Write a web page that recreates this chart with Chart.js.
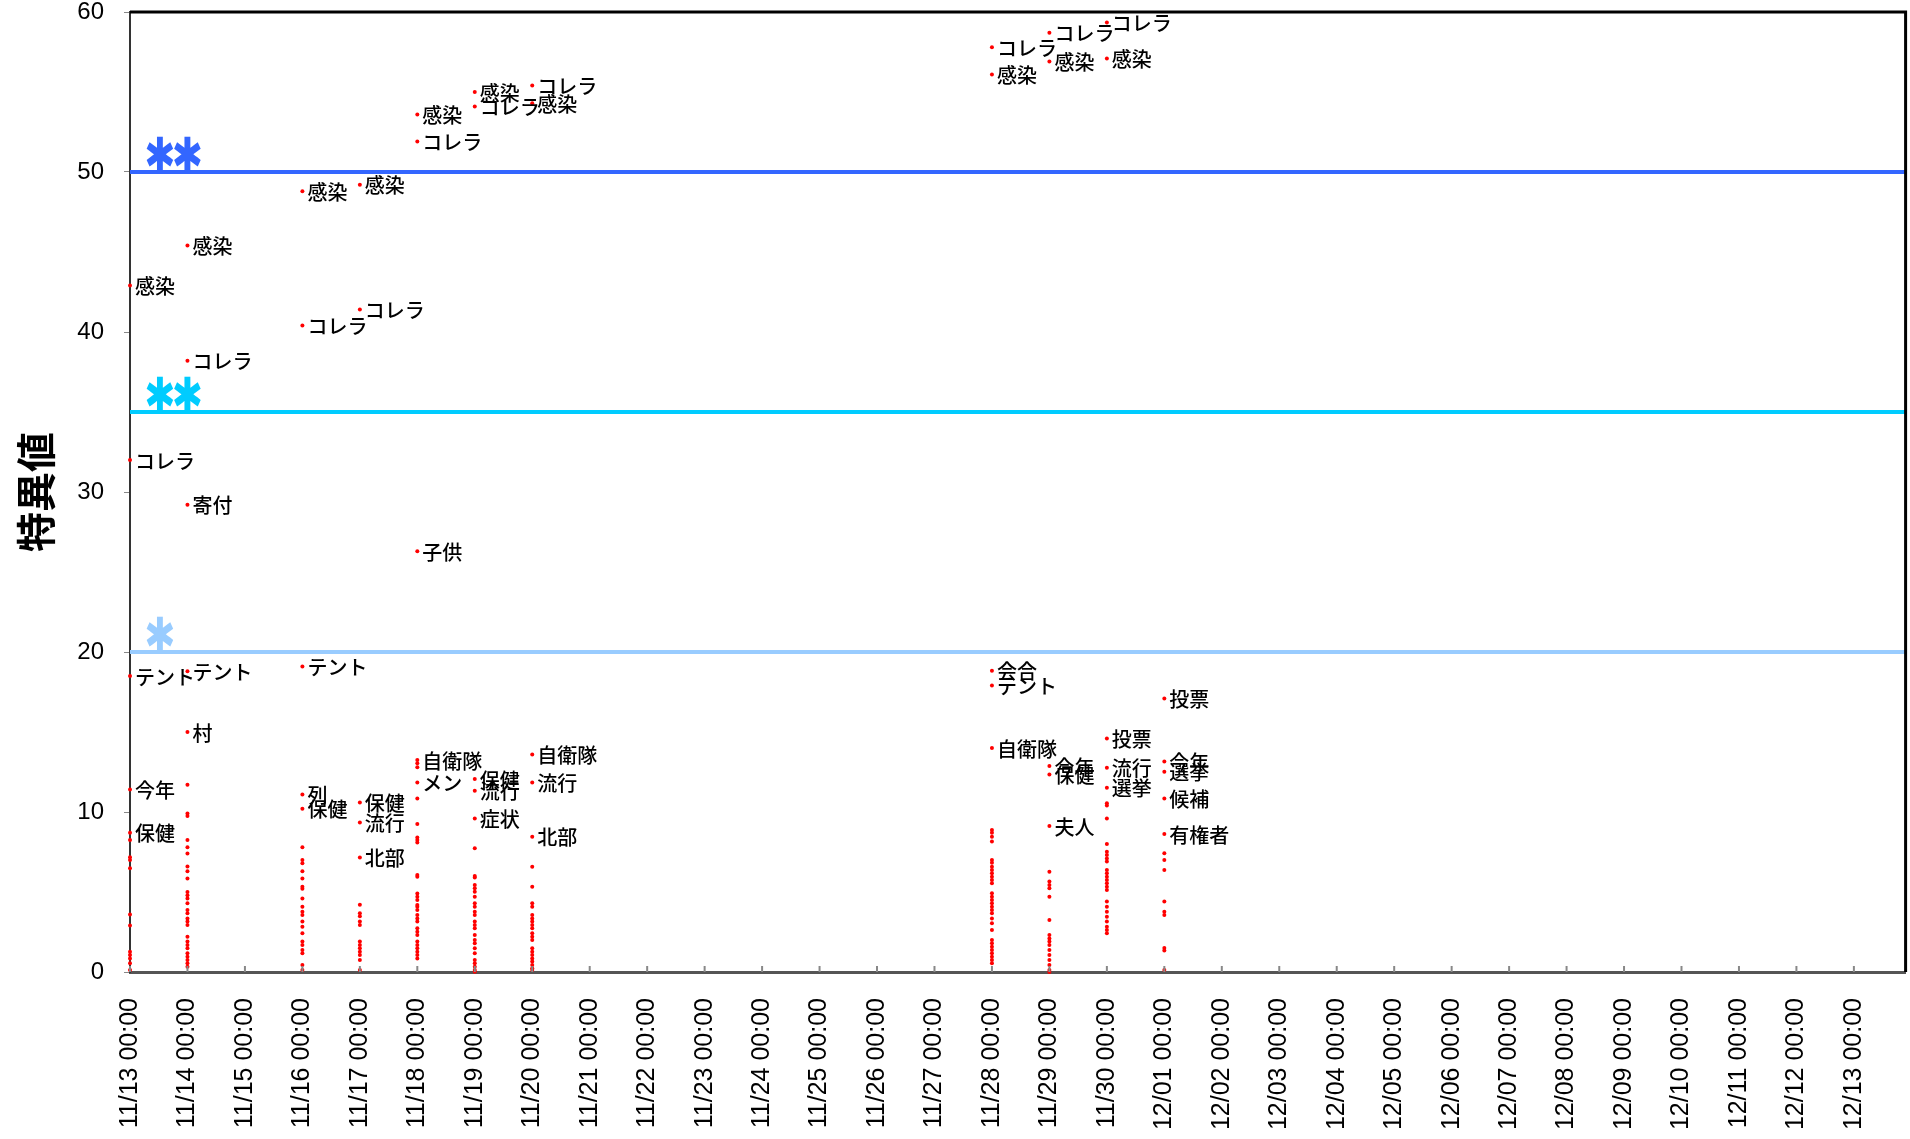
<!DOCTYPE html>
<html>
<head>
<meta charset="utf-8">
<script src="https://cdn.jsdelivr.net/npm/chart.js@4.4.1/dist/chart.umd.min.js"></script>
<style>
  html, body { margin: 0; padding: 0; background: #fff; }
</style>
</head>
<body>
<canvas id="chart" width="1910" height="1139"></canvas>
<script>
// x axis: days counted from 11/13 00:00
const TICK_DATES = ['11/13', '11/14', '11/15', '11/16', '11/17', '11/18', '11/19', '11/20', '11/21', '11/22',
    '11/23', '11/24', '11/25', '11/26', '11/27', '11/28', '11/29', '11/30', '12/01', '12/02',
    '12/03', '12/04', '12/05', '12/06', '12/07', '12/08', '12/09', '12/10', '12/11', '12/12', '12/13'];
const X_MAX = 30.9;

// labelled words
const WORD_DAY = [0, 0, 0, 0, 0, 1, 1, 1, 1, 1, 3, 3, 3, 3, 3, 4, 4, 4, 4, 4, 5, 5, 5, 5, 5,
    6, 6, 6, 6, 6, 7, 7, 7, 7, 7, 15, 15, 15, 15, 15, 16, 16, 16, 16, 16, 17, 17, 17, 17, 17, 18, 18, 18, 18, 18];
const WORD_VALUE = [42.9, 32.0, 18.5, 11.4, 8.7, 45.4, 38.2, 29.2, 18.8, 15.0, 48.8, 40.4, 19.1, 11.1, 10.2,
    49.2, 41.4, 10.6, 9.35, 7.15, 53.6, 51.9, 26.3, 13.25, 11.85, 55.0, 54.1, 12.06, 11.33, 9.6,
    55.4, 54.3, 13.6, 11.85, 8.46, 57.8, 56.1, 18.83, 17.9, 14.0, 58.7, 56.9, 12.88, 12.35, 9.13,
    59.35, 57.1, 14.6, 12.77, 11.52, 17.1, 13.15, 12.52, 10.85, 8.63];
const WORD_TEXT = ['感染', 'コレラ', 'テント', '今年', '保健', '感染', 'コレラ', '寄付', 'テント', '村',
    '感染', 'コレラ', 'テント', '列', '保健', '感染', 'コレラ', '保健', '流行', '北部',
    '感染', 'コレラ', '子供', '自衛隊', 'メン', '感染', 'コレラ', '保健', '流行', '症状',
    'コレラ', '感染', '自衛隊', '流行', '北部', 'コレラ', '感染', '会合', 'テント', '自衛隊',
    'コレラ', '感染', '今年', '保健', '夫人', 'コレラ', '感染', '投票', '流行', '選挙',
    '投票', '今年', '選挙', '候補', '有権者'];

// unlabelled words, per day
const DOTS_1113 = [8.25, 7.17, 7.0, 6.48, 3.6, 2.9, 1.27, 1.06, 0.85, 0.54, 0.12];
const DOTS_1114 = [11.7, 9.9, 9.75, 8.25, 7.8, 7.4, 6.6, 6.3, 5.85, 5.0, 4.8, 4.6, 4.29, 3.88, 3.67, 3.35,
    3.15, 2.94, 2.2, 1.9, 1.69, 1.48, 1.17, 0.96, 0.75, 0.54, 0.33];
const DOTS_1116 = [7.8, 7.0, 6.8, 6.3, 5.85, 5.33, 5.2, 4.6, 4.08, 3.77, 3.56, 3.15, 2.83, 2.42, 1.9, 1.69,
    1.38, 1.17, 0.44, 0.12];
const DOTS_1117 = [4.2, 3.67, 3.48, 3.15, 2.94, 1.9, 1.69, 1.48, 1.27, 1.06, 0.75, 0.12];
const DOTS_1118 = [13.04, 12.8, 10.85, 9.25, 8.4, 8.25, 8.1, 6.06, 5.96, 4.9, 4.7, 4.5, 4.19, 4.08, 3.88,
    3.56, 3.35, 3.15, 2.73, 2.52, 2.31, 1.9, 1.69, 1.48, 1.27, 1.06, 0.85];
const DOTS_1119 = [7.73, 6.0, 5.9, 5.44, 5.23, 5.02, 4.71, 4.29, 4.08, 3.77, 3.56, 3.15, 2.94, 2.73, 2.31,
    2.0, 1.79, 1.48, 1.17, 0.75, 0.54, 0.33, 0.12, 0.02];
const DOTS_1120 = [6.58, 5.33, 4.29, 4.08, 3.56, 3.35, 3.15, 2.94, 2.73, 2.42, 2.2, 2.0, 1.48, 1.27, 1.06,
    0.85, 0.65, 0.44, 0.23, 0.12];
const DOTS_1128 = [8.88, 8.7, 8.46, 8.15, 7.0, 6.83, 6.58, 6.38, 6.17, 5.96, 5.75, 5.54, 4.92, 4.71, 4.5,
    4.29, 4.08, 3.88, 3.67, 3.35, 3.04, 2.63, 2.0, 1.79, 1.58, 1.38, 1.17, 0.96, 0.75, 0.54];
const DOTS_1129 = [6.27, 5.65, 5.44, 5.23, 4.71, 3.25, 2.31, 2.1, 1.9, 1.69, 1.38, 1.06, 0.75, 0.44, 0.12, 0.0];
const DOTS_1130 = [10.54, 10.4, 9.6, 8.0, 7.52, 7.31, 7.1, 6.9, 6.38, 6.17, 5.96, 5.75, 5.54, 5.33, 5.13,
    4.4, 4.08, 3.77, 3.46, 3.15, 2.83, 2.63, 2.42];
const DOTS_1201 = [7.42, 7.0, 6.38, 4.4, 3.77, 3.56, 1.5, 1.35, 0.12];
const DOT_DAYS = [0, 1, 3, 4, 5, 6, 7, 15, 16, 17, 18];
const DOT_VALUES = [DOTS_1113, DOTS_1114, DOTS_1116, DOTS_1117, DOTS_1118, DOTS_1119, DOTS_1120,
    DOTS_1128, DOTS_1129, DOTS_1130, DOTS_1201];

// significance lines
const THRESHOLDS = [20, 35, 50];
const THRESHOLD_STARS = ['*', '**', '**'];
const THRESHOLD_COLORS = ['#99ccff', '#00ccff', '#3366ff'];
const STAR_X = 0.52;

const LABEL_FONT = '500 20px "Noto Sans CJK JP", sans-serif';
const TICK_FONT = 'Liberation Sans, Arial, sans-serif';

const wordPoints = WORD_DAY.map((d, i) => ({ x: d, y: WORD_VALUE[i] }));
const dotPoints = [];
DOT_DAYS.forEach((d, i) => {
    DOT_VALUES[i].forEach(v => dotPoints.push({ x: d, y: v }));
});

const thresholdSets = THRESHOLDS.map((v, i) => ({
    type: 'line',
    data: [{ x: 0, y: v }, { x: X_MAX, y: v }],
    borderColor: THRESHOLD_COLORS[i],
    borderWidth: 4,
    pointRadius: 0,
    showLine: true,
    order: 5
}));

const labelPlugin = {
    id: 'wordLabels',
    afterDatasetsDraw(chart) {
        const ctx = chart.ctx;
        const meta = chart.getDatasetMeta(3);
        ctx.save();
        ctx.font = LABEL_FONT;
        ctx.fillStyle = '#000';
        ctx.textBaseline = 'middle';
        ctx.textAlign = 'left';
        meta.data.forEach((pt, i) => {
            ctx.fillText(WORD_TEXT[i], pt.x + 5, pt.y + 1);
        });

        // stars above the significance lines
        const xs = chart.scales.x, ys = chart.scales.y;
        ctx.font = 'bold 44px "DejaVu Sans", sans-serif';
        ctx.textAlign = 'center';
        ctx.textBaseline = 'middle';
        THRESHOLDS.forEach((v, i) => {
            ctx.fillStyle = THRESHOLD_COLORS[i];
            const y = ys.getPixelForValue(v);
            for (let k = 0; k < THRESHOLD_STARS[i].length; k++) {
                const x = xs.getPixelForValue(STAR_X) + k * 27.5;
                ctx.save();
                ctx.translate(x, y - 13);
                ctx.scale(0.85, 1.1);
                ctx.fillText('✱', 0, 0);
                ctx.restore();
            }
        });
        ctx.restore();
    },
    afterDraw(chart) {
        const { ctx, chartArea } = chart;
        ctx.save();
        ctx.strokeStyle = '#000';
        ctx.lineWidth = 3;
        ctx.beginPath();
        ctx.moveTo(chartArea.left, chartArea.top);
        ctx.lineTo(chartArea.right, chartArea.top);
        ctx.lineTo(chartArea.right, chartArea.bottom);
        ctx.stroke();

        // inward day ticks
        const xs = chart.scales.x;
        ctx.strokeStyle = '#888';
        ctx.lineWidth = 2;
        xs.ticks.forEach(t => {
            const x = xs.getPixelForValue(t.value);
            ctx.beginPath();
            ctx.moveTo(x, chartArea.bottom);
            ctx.lineTo(x, chartArea.bottom - 6);
            ctx.stroke();
        });
        ctx.restore();
    }
};

const ctx = document.getElementById('chart');
new Chart(ctx, {
    type: 'scatter',
    data: {
        datasets: [
            ...thresholdSets,
            {
                data: wordPoints,
                backgroundColor: '#ff0000',
                borderWidth: 0,
                pointRadius: 2,
                clip: false,
                order: 1
            },
            {
                data: dotPoints,
                backgroundColor: '#ff0000',
                borderWidth: 0,
                pointRadius: 2,
                clip: false,
                order: 1
            }
        ]
    },
    options: {
        responsive: false,
        animation: false,
        devicePixelRatio: 1,
        layout: { padding: { top: 12, right: 4, left: 0, bottom: 0 } },
        plugins: {
            legend: { display: false },
            tooltip: { enabled: false }
        },
        scales: {
            x: {
                type: 'linear',
                min: 0,
                max: X_MAX,
                afterBuildTicks: s => {
                    s.ticks = s.ticks.filter(t => Number.isInteger(t.value));
                },
                afterFit: s => { s.height = 167; },
                ticks: {
                    stepSize: 1,
                    autoSkip: false,
                    minRotation: 90,
                    maxRotation: 90,
                    padding: 26,
                    color: '#000',
                    font: { family: TICK_FONT, size: 25 },
                    callback: v => TICK_DATES[v] + ' 00:00'
                },
                grid: { drawOnChartArea: false, drawTicks: false },
                border: { color: '#555', width: 3 }
            },
            y: {
                min: 0,
                max: 60,
                afterFit: s => {
                    s.width = 130;
                    s.paddingTop = 10;
                    s.paddingBottom = 10;
                },
                ticks: {
                    stepSize: 10,
                    padding: 20,
                    color: '#000',
                    font: { family: TICK_FONT, size: 24 }
                },
                grid: { drawOnChartArea: false, tickLength: 6, color: '#888' },
                border: { color: '#333', width: 2 },
                title: {
                    display: true,
                    text: '特異値',
                    color: '#000',
                    padding: { top: 12, bottom: 0 },
                    font: { family: '"Noto Sans CJK JP", sans-serif', size: 40, weight: 'bold' }
                }
            }
        }
    },
    plugins: [labelPlugin]
});
</script>
</body>
</html>
